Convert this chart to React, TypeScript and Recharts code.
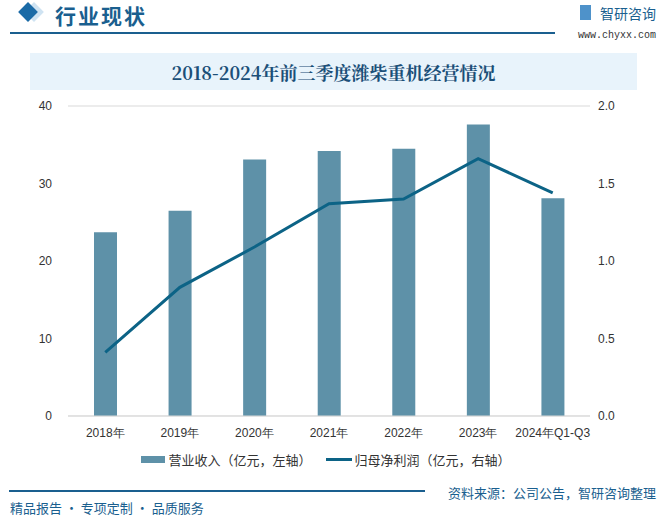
import { ComposedChart, Bar, Line, XAxis, YAxis, CartesianGrid, Legend } from "recharts";

const years = ["2018年", "2019年", "2020年", "2021年", "2022年", "2023年", "2024年Q1-Q3"];
const revenue = [23.7, 26.5, 33.1, 34.2, 34.5, 37.6, 28.1];
const netProfit = [0.41, 0.83, 1.09, 1.37, 1.4, 1.66, 1.44];
const leftTicks = [0, 10, 20, 30, 40];
const rightTicks = [0, 0.5, 1.0, 1.5, 2.0];

const data = years.map((year, i) => ({
  year,
  revenue: revenue[i],
  netProfit: netProfit[i],
}));

const BAR_COLOR = "#5e91a8";
const LINE_COLOR = "#0c6386";
const BRAND = "#1a5f8f";
const tickStyle = { fill: "#333", fontSize: 12, fontFamily: "'Liberation Sans', sans-serif" };

const LegendContent = () => (
  <div
    style={{
      display: "flex",
      justifyContent: "center",
      alignItems: "center",
      height: 20,
      fontSize: 13,
      color: "#333",
      fontFamily: "'Noto Sans CJK SC', sans-serif",
      paddingRight: 6,
    }}
  >
    <span style={{ display: "inline-block", width: 24, height: 7, background: BAR_COLOR, marginRight: 3 }} />
    <span style={{ marginRight: 14 }}>营业收入（亿元，左轴）</span>
    <span style={{ display: "inline-block", width: 26, height: 3, background: LINE_COLOR, marginRight: 3 }} />
    <span>归母净利润（亿元，右轴）</span>
  </div>
);

export default function App() {
  return (
    <div
      style={{
        position: "absolute",
        left: 0,
        top: 0,
        width: 664,
        height: 521,
        background: "#fff",
        overflow: "hidden",
        fontFamily: "'Noto Sans CJK SC', sans-serif",
      }}
    >
      {/* header */}
      <div style={{ position: "absolute", left: 27, top: 5, width: 14, height: 14, background: "#cfe3f2", transform: "rotate(45deg)" }} />
      <div style={{ position: "absolute", left: 21, top: 5, width: 14, height: 14, background: "#1a6aa6", transform: "rotate(45deg)" }} />
      <div style={{ position: "absolute", left: 55, top: 0, fontSize: 21, fontWeight: 700, color: BRAND, letterSpacing: 2 }}>
        行业现状
      </div>
      <div style={{ position: "absolute", left: 10, top: 32, width: 545, height: 2, background: BRAND }} />
      <div style={{ position: "absolute", left: 580, top: 5, width: 11, height: 15, background: "#2f7fc1", opacity: 0.85 }} />
      <div style={{ position: "absolute", left: 600, top: 3, fontSize: 14, color: BRAND }}>智研咨询</div>
      <div style={{ position: "absolute", right: 8, top: 30, fontSize: 10, lineHeight: "12px", color: "#333", fontFamily: "'Liberation Mono', monospace" }}>
        www.chyxx.com
      </div>

      {/* title */}
      <div
        style={{
          position: "absolute",
          left: 30,
          top: 53,
          width: 607,
          height: 37,
          background: "#e8f3fb",
          display: "flex",
          alignItems: "center",
          justifyContent: "center",
          fontSize: 18,
          fontWeight: 700,
          color: "#1b4f78",
          fontFamily: "'Noto Serif CJK SC', 'Liberation Serif', serif",
        }}
      >
        2018-2024年前三季度潍柴重机经营情况
      </div>

      <div style={{ position: "absolute", left: 0, top: 0 }}>
        <ComposedChart
          width={664}
          height={521}
          data={data}
          margin={{ top: 106, right: 14, bottom: 52, left: 8 }}
        >
          <CartesianGrid stroke="#d9d9d9" vertical={false} />
          <XAxis
            dataKey="year"
            axisLine={{ stroke: "#d9d9d9" }}
            tickLine={false}
            tick={tickStyle}
            tickMargin={6}
            height={33}
            interval={0}
          />
          <YAxis
            yAxisId="left"
            width={60}
            domain={[0, 40]}
            ticks={leftTicks}
            axisLine={false}
            tickLine={false}
            tick={tickStyle}
            tickMargin={10}
          />
          <YAxis
            yAxisId="right"
            orientation="right"
            width={60}
            domain={[0, 2]}
            ticks={rightTicks}
            tickFormatter={(v: number) => v.toFixed(1)}
            axisLine={false}
            tickLine={false}
            tick={tickStyle}
            tickMargin={2}
          />
          <Legend verticalAlign="bottom" height={20} content={<LegendContent />} />
          <Bar yAxisId="left" dataKey="revenue" fill={BAR_COLOR} barSize={23} isAnimationActive={false} />
          <Line
            yAxisId="right"
            type="linear"
            dataKey="netProfit"
            stroke={LINE_COLOR}
            strokeWidth={3}
            dot={false}
            activeDot={false}
            isAnimationActive={false}
          />
        </ComposedChart>
      </div>

      {/* footer */}
      <div style={{ position: "absolute", left: 9, top: 490, width: 416, height: 1.5, background: BRAND }} />
      <div style={{ position: "absolute", left: 10, top: 498, fontSize: 13, color: BRAND }}>
        精品报告 · 专项定制 · 品质服务
      </div>
      <div style={{ position: "absolute", right: 8, top: 483, fontSize: 13, color: BRAND }}>
        资料来源：公司公告，智研咨询整理
      </div>
    </div>
  );
}
